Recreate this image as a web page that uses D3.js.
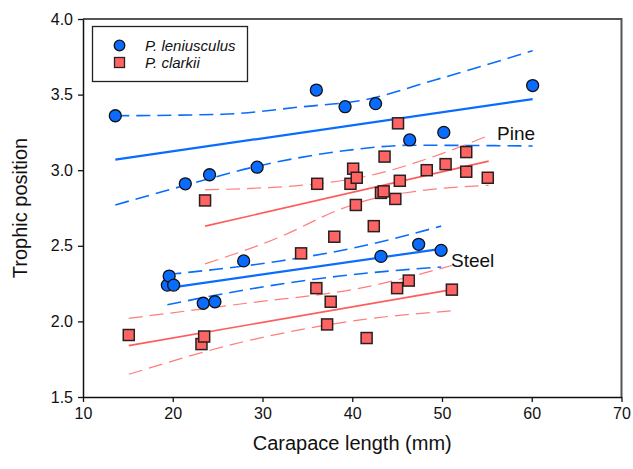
<!DOCTYPE html>
<html>
<head>
<meta charset="utf-8">
<script src="https://cdn.jsdelivr.net/npm/d3@7"></script>
<style>
  body { margin: 0; background: #fff; }
  svg { font-family: "Liberation Sans", Arial, sans-serif; }
</style>
</head>
<body>
<script>
// carapace length (mm) and trophic position
const lenX = [13.6, 19.4, 19.6, 20.1, 21.4, 23.4, 24.1, 24.7, 27.9, 29.4, 36.0, 39.2, 42.6, 43.2, 46.4, 47.4, 49.9, 50.2, 60.1];
const lenY = [3.36, 2.24, 2.30, 2.24, 2.91, 2.12, 2.97, 2.13, 2.40, 3.02, 3.53, 3.42, 3.44, 2.43, 3.20, 2.51, 2.47, 3.25, 3.56];

const claX = [15.1, 23.2, 23.5, 23.6, 34.3, 36.0, 36.1, 37.2, 37.6, 38.0, 39.8, 40.1, 40.4, 40.5, 41.6, 42.4, 43.2, 43.5, 43.6, 44.8, 45.0, 45.1, 45.3, 46.3, 48.3, 50.4, 51.1, 52.7, 52.7, 55.1];
const claY = [1.91, 1.85, 1.90, 2.80, 2.45, 2.22, 2.91, 1.98, 2.13, 2.56, 2.91, 3.01, 2.77, 2.95, 1.89, 2.63, 2.85, 2.86, 3.09, 2.81, 2.22, 3.31, 2.93, 2.27, 3.00, 3.04, 2.21, 3.12, 2.99, 2.95];

// fitted lines and 95% bands: [x, y] pairs
const lenPineFit = [[13.6, 3.07], [60.1, 3.47]];
const lenPineUp  = [[13.6, 3.36], [25.6, 3.37], [34.5, 3.42], [40.9, 3.46], [49.4, 3.60], [60.1, 3.79]];
const lenPineLo  = [[13.6, 2.77], [21.4, 2.90], [29.7, 3.03], [39.3, 3.13], [46.6, 3.165], [60.1, 3.16]];

const lenSteelFit = [[19.4, 2.22], [49.9, 2.48]];
const lenSteelUp  = [[19.4, 2.31], [32.0, 2.40], [40.5, 2.49], [49.9, 2.63]];
const lenSteelLo  = [[19.4, 2.11], [28.2, 2.21], [38.6, 2.30], [49.9, 2.36]];

const claPineFit = [[23.6, 2.63], [55.2, 3.06]];
const claPineUp  = [[23.6, 2.87], [36.1, 2.91], [41.6, 2.96], [50.0, 3.11], [55.2, 3.23]];
const claPineLo  = [[23.6, 2.38], [32.0, 2.56], [38.6, 2.74], [41.6, 2.80], [47.7, 2.865], [55.2, 2.90]];

const claSteelFit = [[15.1, 1.84], [51.1, 2.21]];
const claSteelUp  = [[15.1, 2.02], [28.2, 2.12], [40.9, 2.22], [51.1, 2.37]];
const claSteelLo  = [[15.1, 1.65], [28.2, 1.87], [40.9, 2.01], [51.1, 2.07]];

const xTicks = [10, 20, 30, 40, 50, 60, 70];
const yTicks = [1.5, 2.0, 2.5, 3.0, 3.5, 4.0];

const blue = "#0a6cff";
const red = "#ff5c5c";

const width = 633, height = 469;
const margin = {left: 83, top: 19, right: 11.5, bottom: 72};

const svg = d3.select("body").append("svg")
    .attr("width", width)
    .attr("height", height);

const x = d3.scaleLinear().domain([10, 70]).range([margin.left, width - margin.right]);
const y = d3.scaleLinear().domain([1.5, 4.0]).range([height - margin.bottom, margin.top]);

// frame: grey top/right
svg.append("path")
    .attr("d", `M${x(10)},${y(4)}H${x(70)}V${y(1.5)}`)
    .attr("fill", "none")
    .attr("stroke", "#555")
    .attr("stroke-width", 2);

const line = d3.line().x(d => x(d[0])).y(d => y(d[1])).curve(d3.curveMonotoneX);

function drawLine(pts, color, w, dash, op) {
    svg.append("path")
        .datum(pts)
        .attr("d", line)
        .attr("fill", "none")
        .attr("stroke", color)
        .attr("stroke-width", w)
        .attr("stroke-dasharray", dash)
        .attr("opacity", op);
}

// red bands and fits
[claPineUp, claPineLo, claSteelUp, claSteelLo].forEach(p => drawLine(p, red, 1.2, "14,7", 0.8));
[claPineFit, claSteelFit].forEach(p => drawLine(p, red, 1.6, null, 1));
// blue bands and fits
[lenPineUp, lenPineLo, lenSteelUp, lenSteelLo].forEach(p => drawLine(p, blue, 1.6, "14,7", 1));
[lenPineFit, lenSteelFit].forEach(p => drawLine(p, blue, 2.2, null, 1));

// axes
const xAxis = svg.append("g")
    .attr("transform", `translate(0,${y(1.5)})`)
    .call(d3.axisBottom(x).tickValues(xTicks).tickSize(5).tickSizeOuter(0).tickPadding(6));
const yAxis = svg.append("g")
    .attr("transform", `translate(${x(10)},0)`)
    .call(d3.axisLeft(y).tickValues(yTicks).tickSize(5).tickSizeOuter(0).tickPadding(5).tickFormat(d3.format(".1f")));

[xAxis, yAxis].forEach(g => {
    g.select(".domain").attr("stroke", "#111").attr("stroke-width", 1.5);
    g.selectAll(".tick line").attr("stroke", "#111").attr("stroke-width", 1.3);
    g.selectAll(".tick text")
        .attr("font-size", 16)
        .attr("font-family", "Liberation Sans, Arial, sans-serif")
        .attr("fill", "#111");
});

// points
svg.append("g").selectAll("rect")
    .data(claX.map((v, i) => [v, claY[i]]))
    .enter().append("rect")
    .attr("x", d => x(d[0]) - 5.5)
    .attr("y", d => y(d[1]) - 5.5)
    .attr("width", 11)
    .attr("height", 11)
    .attr("fill", "#ff6464")
    .attr("stroke", "#2a2020")
    .attr("stroke-width", 1.5);

svg.append("g").selectAll("circle")
    .data(lenX.map((v, i) => [v, lenY[i]]))
    .enter().append("circle")
    .attr("cx", d => x(d[0]))
    .attr("cy", d => y(d[1]))
    .attr("r", 6)
    .attr("fill", "#0a6cff")
    .attr("stroke", "#111")
    .attr("stroke-width", 1.3);

// site labels
svg.append("text").attr("x", 497).attr("y", 140)
    .attr("font-size", 19).attr("fill", "#111").text("Pine");
svg.append("text").attr("x", 451).attr("y", 267)
    .attr("font-size", 19).attr("fill", "#111").text("Steel");

// legend
const leg = svg.append("g");
leg.append("rect")
    .attr("x", 92.5).attr("y", 26.5)
    .attr("width", 155).attr("height", 55)
    .attr("fill", "#fff").attr("stroke", "#222").attr("stroke-width", 1.3);
leg.append("circle")
    .attr("cx", 119.5).attr("cy", 45.5).attr("r", 5.3)
    .attr("fill", "#0a6cff").attr("stroke", "#111").attr("stroke-width", 1.3);
leg.append("rect")
    .attr("x", 114.5).attr("y", 57.5).attr("width", 10).attr("height", 10)
    .attr("fill", "#ff6464").attr("stroke", "#2a2020").attr("stroke-width", 1.3);
leg.append("text").attr("x", 145).attr("y", 51)
    .attr("font-size", 15).attr("font-style", "italic").attr("fill", "#111").text("P. leniusculus");
leg.append("text").attr("x", 145).attr("y", 68)
    .attr("font-size", 15).attr("font-style", "italic").attr("fill", "#111").text("P. clarkii");

// axis titles
svg.append("text")
    .attr("x", (x(10) + x(70)) / 2).attr("y", 450)
    .attr("text-anchor", "middle").attr("font-size", 20).attr("fill", "#111")
    .text("Carapace length (mm)");
svg.append("text")
    .attr("transform", `translate(27,${(y(1.5) + y(4)) / 2}) rotate(-90)`)
    .attr("text-anchor", "middle").attr("font-size", 20).attr("fill", "#111")
    .text("Trophic position");
</script>
</body>
</html>
